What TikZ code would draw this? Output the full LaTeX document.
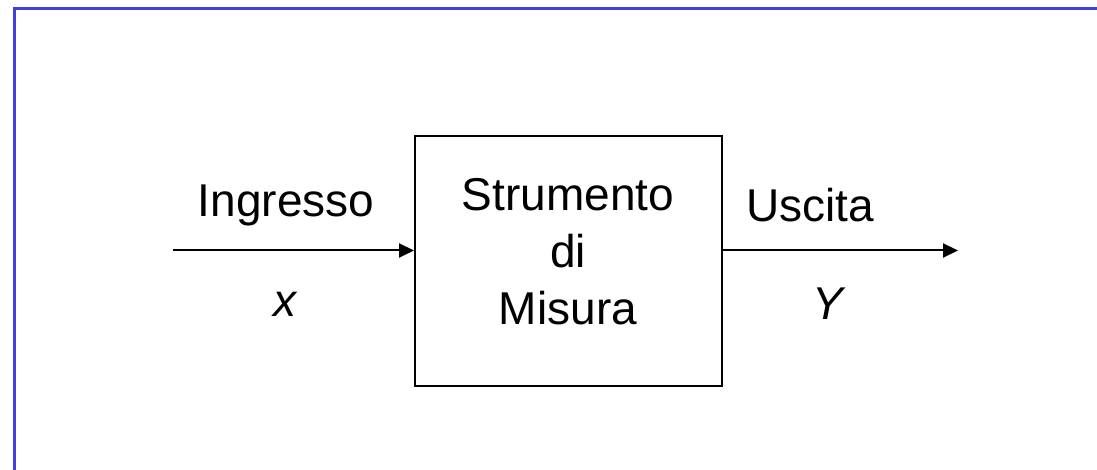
\documentclass[tikz,border=0pt]{standalone}
\usepackage{fontspec}
\setmainfont{Liberation Sans}
\usetikzlibrary{arrows.meta}
\begin{document}
\begin{tikzpicture}[x=1pt,y=1pt,
  lbl/.style={inner sep=0pt,anchor=base,font=\fontsize{46}{57}\selectfont},
  conn/.style={line width=2pt,-{Triangle[length=15pt,width=14pt]}}]
\useasboundingbox (0,0) rectangle (1097,470);
\draw[draw={rgb,255:red,64;green,64;blue,224},line width=3pt] (14,0) -- (14,461.5) -- (1097,461.5);
\node[draw,line width=2pt,minimum width=307pt,minimum height=250pt,inner sep=0pt] (box) at (568.5,209) {};
\coordinate (in) at (173,219.5);
\coordinate (out) at (958,219.5);
\draw[conn] (in) -- (box.west |- in);
\draw[conn] (box.east |- out) -- (out);
\node[lbl] (ing) at (286,253) {Ingresso};
\node[lbl] (xx) at (285,153) {\itshape x};
\node[lbl] (s1) at (568,259) {Strumento};
\node[lbl] (s2) at (568,202) {di};
\node[lbl] (s3) at (568,145) {Misura};
\node[lbl] (usc) at (810,248) {Uscita};
\node[lbl] (yy) at (828,150) {\itshape Y};
\end{tikzpicture}
\end{document}
